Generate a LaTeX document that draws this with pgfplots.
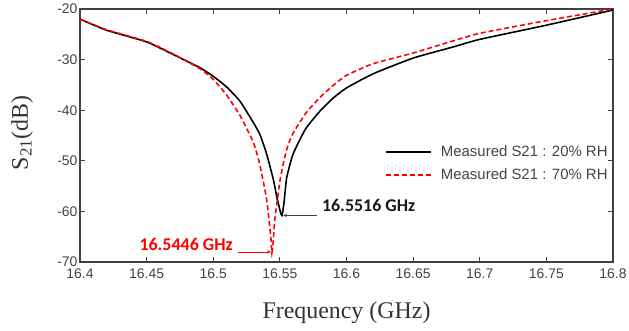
\documentclass[border=0pt]{standalone}
\usepackage{fontspec}
\setmainfont{Liberation Serif}
\setsansfont{Liberation Sans}
\newfontfamily\calib{Carlito}
\usepackage{pgfplots}
\pgfplotsset{compat=1.18}
\definecolor{axgray}{HTML}{404040}
\definecolor{tkgray}{HTML}{42424C}
\begin{document}
\begin{tikzpicture}
\useasboundingbox (-80bp,-69bp) rectangle (549bp,262bp);
\begin{axis}[
  scale only axis,
  width=533bp, height=253bp,
  xmin=16.4, xmax=16.8, ymin=-70, ymax=-20,
  xtick={16.4,16.45,...,16.8},
  xticklabels={16.4,16.45,16.5,16.55,16.6,16.65,16.7,16.75,16.8},
  ytick={-70,-60,...,-20},
  xtick pos=both, ytick pos=both,
  tick align=inside,
  major tick length=5bp,
  axis line style={draw=axgray, line width=1.5pt},
  every tick/.append style={axgray, line width=1pt},
  /pgf/number format/assume math mode=true,
  ticklabel style={font=\sffamily\fontsize{14}{14}\selectfont, text=tkgray},
  xticklabel style={yshift=-3bp},
  yticklabel style={xshift=1bp},
  xlabel={Frequency (GHz)},
  xlabel style={font=\fontsize{24}{24}\selectfont, text=black!80, at={(axis description cs:0.5,-0.2016)}, anchor=center},
  ylabel={S\raisebox{-0.35ex}{\fontsize{17}{17}\selectfont 21}(dB)},
  ylabel style={font=\fontsize{24}{24}\selectfont, text=black!80, at={(axis description cs:-0.1088,0.51)}, anchor=center},
  legend style={draw=none, fill=none, at={(axis cs:16.629,-46.6)}, anchor=north west,
    font=\sffamily\fontsize{15}{15}\selectfont, text=tkgray, row sep=7bp,
    inner sep=0pt},
  legend cell align=left,
  legend image code/.code={\draw[#1] (0bp,0bp) -- (45bp,0bp); \path (52bp,0bp);},
  clip=false,
]
\draw[draw=axgray, line width=1.5pt] (rel axis cs:0,0) rectangle (rel axis cs:1,1);
\addplot[black, line width=1.6pt, smooth, tension=0.3] coordinates {
(16.40,-22.0) (16.42,-24.2) (16.45,-26.5) (16.47,-29.0) (16.49,-31.6)
(16.50,-33.3) (16.51,-35.4) (16.52,-38.2) (16.53,-42.4) (16.535,-44.8)
(16.54,-48.6) (16.545,-53.6) (16.548,-57.5) (16.5505,-60.2) (16.5516,-60.8)
(16.5530,-58.5) (16.555,-53.5) (16.558,-50.3) (16.56,-48.6) (16.565,-45.8)
(16.57,-43.4) (16.58,-40.2) (16.59,-37.6) (16.60,-35.6) (16.62,-32.8)
(16.65,-29.7) (16.68,-27.5) (16.70,-26.0) (16.75,-23.2) (16.80,-20.2)
};
\addlegendentry{Measured S21 : 20\% RH}
\addplot[red, line width=1.6pt, dash pattern=on 5pt off 3pt, smooth, tension=0.3] coordinates {
(16.40,-22.0) (16.42,-24.1) (16.45,-26.4) (16.47,-28.9) (16.49,-31.8)
(16.50,-33.9) (16.51,-37.0) (16.52,-41.0) (16.53,-46.3) (16.535,-50.8)
(16.54,-57.5) (16.542,-62.0) (16.5435,-66.0) (16.5440,-68.2) (16.5450,-66.0)
(16.546,-62.0) (16.548,-58.0) (16.55,-54.0) (16.553,-50.0) (16.556,-47.0)
(16.56,-44.5) (16.57,-40.4) (16.58,-37.5) (16.59,-35.1) (16.60,-33.1)
(16.62,-30.8) (16.65,-28.7) (16.68,-26.3) (16.70,-24.8) (16.75,-22.3) (16.80,-20.0)
};
\addlegendentry{Measured S21 : 70\% RH}
\draw[-stealth, axgray, line width=0.7pt] (axis cs:16.578,-60.8) -- (axis cs:16.5525,-60.8);
\node[anchor=west, font=\calib\bfseries\fontsize{18}{18}\selectfont, text=black!90, inner sep=0pt] at (axis cs:16.5815,-58.9) {16.5516 GHz};
\draw[-stealth, red, line width=0.7pt] (axis cs:16.5186,-68.0) -- (axis cs:16.5432,-68.0);
\node[anchor=east, font=\calib\bfseries\fontsize{18}{18}\selectfont, text=red, inner sep=0pt] at (axis cs:16.5148,-66.6) {16.5446 GHz};
\end{axis}
\end{tikzpicture}
\end{document}
